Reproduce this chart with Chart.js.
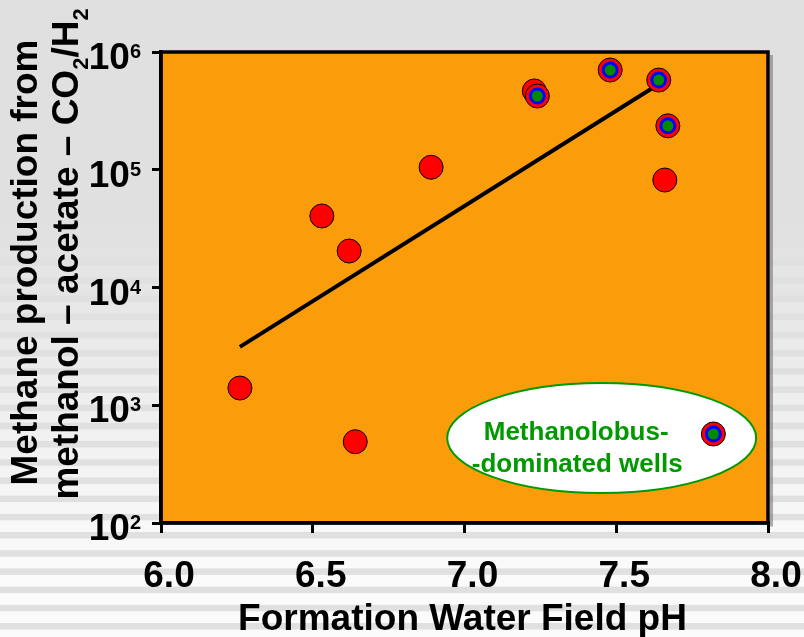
<!DOCTYPE html>
<html>
<head>
<meta charset="utf-8">
<script src="https://cdn.jsdelivr.net/npm/chart.js@4.4.1/dist/chart.umd.min.js"></script>
<style>
  html, body { margin: 0; padding: 0; background: #e0e0e0; }
  #wrap { width: 804px; height: 637px; }
</style>
</head>
<body>
<div id="wrap"><canvas id="phChart" width="804" height="637"></canvas></div>
<script>
// wells where Methanolobus is not dominant
const phOther = [6.26, 6.53, 6.62, 6.64, 6.89, 7.23, 7.66];
const methOther = [1400, 40500, 20400, 490, 105000, 467000, 81800];
// Methanolobus-dominated wells
const phMethanolobus = [7.24, 7.48, 7.64, 7.67, 7.82];
const methMethanolobus = [423000, 703000, 578000, 236000, 570];
// fitted trend line
const trendPh = [6.26, 7.63];
const trendMeth = [3130, 514000];

const xTickValues = [6.0, 6.5, 7.0, 7.5, 8.0];
const xTickLabels = ['6.0', '6.5', '7.0', '7.5', '8.0'];
const yTickValues = [1e2, 1e3, 1e4, 1e5, 1e6];
const yTickExponents = ['2', '3', '4', '5', '6'];

const xTitle = 'Formation Water Field pH';
const yTitleLine1 = [{ t: 'Methane production from' }];
const yTitleLine2 = [
    { t: 'methanol \u2013 acetate \u2013 CO' }, { t: '2', sub: true },
    { t: '/H' }, { t: '2', sub: true }
];
const noteLines = ['Methanolobus-', '-dominated wells'];

const FONT = '"Liberation Sans", Arial, sans-serif';

function pairs(xs, ys) {
    return xs.map((x, i) => ({ x: x, y: ys[i] }));
}

function drawRich(ctx, parts, size, subSize) {
    let total = 0;
    parts.forEach(p => {
        ctx.font = 'bold ' + (p.sub ? subSize : size) + 'px ' + FONT;
        p.w = ctx.measureText(p.t).width;
        total += p.w;
    });
    let x = -total / 2;
    parts.forEach(p => {
        ctx.font = 'bold ' + (p.sub ? subSize : size) + 'px ' + FONT;
        ctx.fillText(p.t, x, p.sub ? 10 : 0);
        x += p.w;
    });
}

const decor = {
    id: 'decor',
    beforeDraw(chart) {
        const ctx = chart.ctx;
        const W = chart.width, H = chart.height;
        ctx.save();
        // striped slide background
        ctx.fillStyle = '#e0e0e0';
        ctx.fillRect(0, 0, W, H);
        for (let y0 = 532 - 18.2 * 30; y0 < H; y0 += 18.2) {
            const a = Math.max(0, Math.min(1, (y0 - 200) / 360));
            if (a <= 0) continue;
            ctx.fillStyle = 'rgba(252,252,252,' + (a * 0.95) + ')';
            ctx.fillRect(0, y0 + 6.5, W, 11.7);
        }
        // plot area
        const ca = chart.chartArea;
        ctx.fillStyle = '#fb9d0b';
        ctx.fillRect(ca.left, ca.top, ca.right - ca.left, ca.bottom - ca.top);
        ctx.restore();
    },
    beforeDatasetsDraw(chart) {
        const ctx = chart.ctx;
        const ca = chart.chartArea;
        const xs = chart.scales.x, ys = chart.scales.y;
        ctx.save();
        // frame with a soft shadow
        ctx.strokeStyle = 'rgba(110,110,110,0.55)';
        ctx.lineWidth = 3;
        ctx.beginPath();
        ctx.moveTo(ca.right + 3.5, ca.top + 3);
        ctx.lineTo(ca.right + 3.5, ca.bottom + 3.5);
        ctx.stroke();
        ctx.strokeStyle = '#000';
        ctx.lineWidth = 3.5;
        ctx.strokeRect(ca.left, ca.top, ca.right - ca.left, ca.bottom - ca.top);

        // annotation ellipse
        const cx = xs.getPixelForValue(7.452);
        const cy = ys.getPixelForValue(527);
        ctx.beginPath();
        ctx.ellipse(cx, cy, 154.5, 55, 0, 0, Math.PI * 2);
        ctx.fillStyle = '#ffffff';
        ctx.fill();
        ctx.strokeStyle = '#009900';
        ctx.lineWidth = 2;
        ctx.stroke();
        ctx.fillStyle = '#009900';
        ctx.font = 'bold 26px ' + FONT;
        ctx.textAlign = 'center';
        ctx.textBaseline = 'alphabetic';
        ctx.fillText(noteLines[0], cx - 25.5, cy + 2);
        ctx.fillText(noteLines[1], cx - 24.5, cy + 34);
        ctx.restore();
    },
    afterDraw(chart) {
        const ctx = chart.ctx;
        const ca = chart.chartArea;
        const xs = chart.scales.x, ys = chart.scales.y;
        ctx.save();
        ctx.fillStyle = '#000';
        ctx.textBaseline = 'alphabetic';

        // x tick labels
        ctx.font = 'bold 37px ' + FONT;
        ctx.textAlign = 'center';
        xTickValues.forEach((v, i) => {
            ctx.fillText(xTickLabels[i], xs.getPixelForValue(v) + 8, ca.bottom + 64);
        });
        // x title
        ctx.fillText(xTitle, (ca.left + ca.right) / 2 - 2, ca.bottom + 107);

        // y tick labels 10^n
        ctx.textAlign = 'left';
        yTickValues.forEach((v, i) => {
            const py = ys.getPixelForValue(v) + 17;
            ctx.font = 'bold 20px ' + FONT;
            const ew = ctx.measureText(yTickExponents[i]).width;
            ctx.font = 'bold 37px ' + FONT;
            const bw = ctx.measureText('10').width;
            const right = 141;
            ctx.fillText('10', right - ew - bw, py);
            ctx.font = 'bold 20px ' + FONT;
            ctx.fillText(yTickExponents[i], right - ew, py - 11);
        });

        // y title, two rotated lines
        ctx.textAlign = 'left';
        ctx.save();
        ctx.translate(37, 262.5);
        ctx.rotate(-Math.PI / 2);
        drawRich(ctx, yTitleLine1, 37, 22);
        ctx.restore();
        ctx.save();
        ctx.translate(78, 254);
        ctx.rotate(-Math.PI / 2);
        drawRich(ctx, yTitleLine2, 37, 22);
        ctx.restore();
        ctx.restore();
    }
};

const axisGrid = (len) => ({
    drawOnChartArea: false,
    drawTicks: true,
    tickLength: len,
    color: '#000',
    lineWidth: 3
});

new Chart(document.getElementById('phChart'), {
    type: 'scatter',
    data: {
        datasets: [
            {
                label: 'Methanolobus core',
                data: pairs(phMethanolobus, methMethanolobus),
                order: 0,
                pointRadius: 5.5,
                pointBackgroundColor: '#008a00',
                pointBorderWidth: 0
            },
            {
                label: 'Methanolobus ring',
                data: pairs(phMethanolobus, methMethanolobus),
                order: 1,
                pointRadius: 8.5,
                pointBackgroundColor: '#0000ff',
                pointBorderWidth: 0
            },
            {
                label: 'Methanolobus-dominated wells',
                data: pairs(phMethanolobus, methMethanolobus),
                order: 2,
                pointRadius: 12,
                pointBackgroundColor: '#ff0000',
                pointBorderColor: '#000',
                pointBorderWidth: 1
            },
            {
                label: 'Other wells',
                data: pairs(phOther, methOther),
                order: 3,
                pointRadius: 12,
                pointBackgroundColor: '#ff0000',
                pointBorderColor: '#000',
                pointBorderWidth: 1
            },
            {
                label: 'Trend',
                data: pairs(trendPh, trendMeth),
                order: 4,
                showLine: true,
                borderColor: '#000',
                borderWidth: 4,
                pointRadius: 0
            }
        ]
    },
    options: {
        responsive: false,
        animation: false,
        events: [],
        layout: { padding: { left: 0, top: 52, right: 36, bottom: 0 } },
        plugins: {
            legend: { display: false },
            tooltip: { enabled: false }
        },
        scales: {
            x: {
                type: 'linear',
                min: 6,
                max: 8,
                afterBuildTicks: (s) => { s.ticks = xTickValues.map(v => ({ value: v })); },
                afterFit: (s) => { s.height = 114; },
                ticks: { display: false },
                grid: axisGrid(10),
                border: { display: true, color: '#000', width: 3.5 }
            },
            y: {
                type: 'logarithmic',
                min: 100,
                max: 1e6,
                afterBuildTicks: (s) => { s.ticks = yTickValues.map(v => ({ value: v })); },
                afterFit: (s) => { s.width = 161; },
                ticks: { display: false },
                grid: axisGrid(9),
                border: { display: true, color: '#000', width: 3.5 }
            }
        }
    },
    plugins: [decor]
});
</script>
</body>
</html>
